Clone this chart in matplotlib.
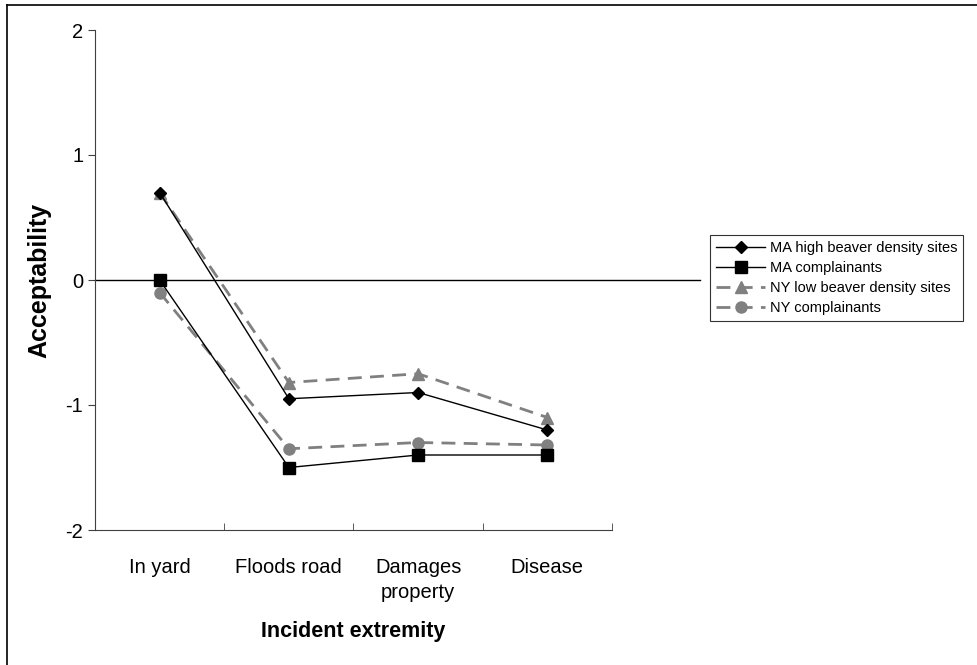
import matplotlib.pyplot as plt
from matplotlib.lines import Line2D

plt.rcParams['font.family'] = ['Liberation Sans', 'DejaVu Sans']
plt.rcParams['axes.unicode_minus'] = False

categories = ['In yard', 'Floods road', 'Damages\nproperty', 'Disease']
ma_high = [0.70, -0.95, -0.90, -1.20]
ma_compl = [0.00, -1.50, -1.40, -1.40]
ny_low = [0.70, -0.82, -0.75, -1.10]
ny_compl = [-0.10, -1.35, -1.30, -1.32]

W, H = 978, 665
fig = plt.figure(figsize=(W / 100, H / 100), dpi=100)
# plot area in pixels: x 95..612, y 30..530
ax = fig.add_axes([95 / W, 1 - 530 / H, (612 - 95) / W, 500 / H])

grey = '#808080'
x = list(range(len(categories)))
ax.plot(x, ma_high, color='black', lw=1.0, marker='D', ms=6.5,
        label='MA high beaver density sites', zorder=4)
ax.plot(x, ma_compl, color='black', lw=1.0, marker='s', ms=8.5,
        label='MA complainants', zorder=4)
ax.plot(x, ny_low, color=grey, lw=2.0, ls=(0, (5, 3)), marker='^', ms=8.5,
        label='NY low beaver density sites', zorder=3)
ax.plot(x, ny_compl, color=grey, lw=2.0, ls=(0, (5, 3)), marker='o', ms=8,
        label='NY complainants', zorder=3)

# zero line runs on past the plot edge, as in the original
ax.axhline(0, xmin=0, xmax=(700 - 95) / (612 - 95), color='black', lw=1.0,
           clip_on=False, zorder=2)

ax.set_xlim(-0.5, 3.5)
ax.set_ylim(-2, 2)
ax.set_yticks([-2, -1, 0, 1, 2])
ax.set_xticks([-0.5, 0.5, 1.5, 2.5, 3.5], minor=True)
ax.set_xticks(x)
ax.set_xticklabels(categories, fontsize=14.5, linespacing=1.4)
ax.tick_params(axis='x', which='major', length=0, pad=20)
ax.tick_params(axis='x', which='minor', length=5, direction='in', color='#404040')
ax.tick_params(axis='y', length=5, direction='out', labelsize=14.5, color='#404040')
for s in ['top', 'right']:
    ax.spines[s].set_visible(False)
for s in ['left', 'bottom']:
    ax.spines[s].set_color('#404040')

ax.set_ylabel('Acceptability', fontsize=18, fontweight='bold', labelpad=10)
ax.set_xlabel('Incident extremity', fontsize=15.5, fontweight='bold', labelpad=14)

leg = fig.legend(loc='upper left', bbox_to_anchor=(710 / W, 1 - 235 / H),
                 fontsize=10.5, frameon=True, fancybox=False, edgecolor='black',
                 handlelength=3.4, borderpad=0.4, labelspacing=0.42,
                 handletextpad=0.3, borderaxespad=0)
leg.get_frame().set_linewidth(0.8)

# figure border (top and left edges only visible)
fig.add_artist(Line2D([7 / W, 7 / W], [0, 1 - 5 / H], color='black', lw=1.2,
                      transform=fig.transFigure))
fig.add_artist(Line2D([7 / W, 1], [1 - 5 / H, 1 - 5 / H], color='black', lw=1.2,
                      transform=fig.transFigure))

fig.savefig('out.png', dpi=100)
